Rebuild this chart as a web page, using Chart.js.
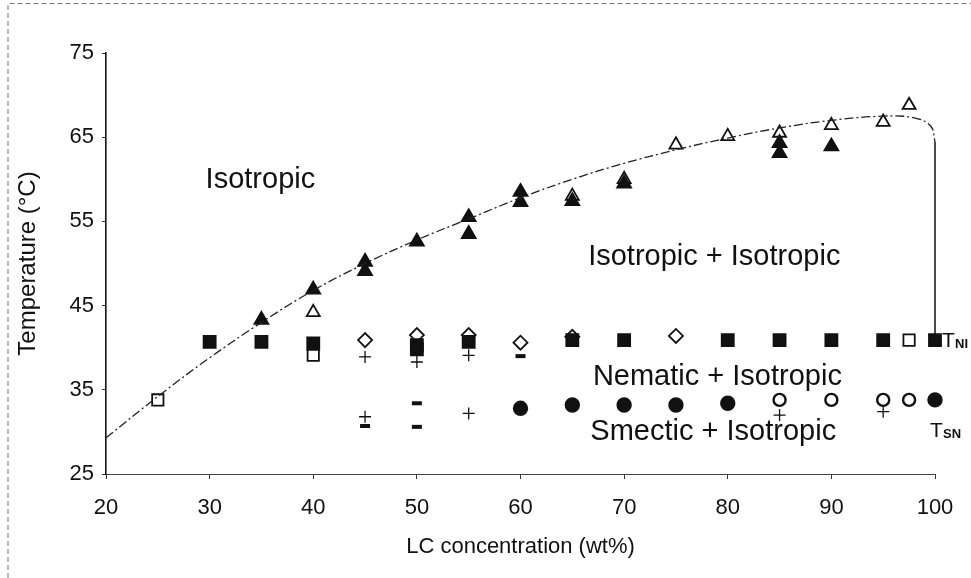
<!DOCTYPE html>
<html>
<head>
<meta charset="utf-8">
<script src="https://cdn.jsdelivr.net/npm/chart.js@4.4.1/dist/chart.umd.min.js"></script>
<style>
  html, body { margin: 0; padding: 0; background: #fff; }
  #wrap { width: 971px; height: 578px; }
</style>
</head>
<body>
<div id="wrap"><canvas id="chart-phase" width="971" height="578"></canvas></div>
<script>
// ---- data (LC concentration wt%, temperature °C) ----
const xTicks = [20, 30, 40, 50, 60, 70, 80, 90, 100];
const yTicks = [25, 35, 45, 55, 65, 75];

// fitted boundary curve
const boundaryCurve = [[20, 29.3], [25, 34.2], [30, 38.8], [35, 43.0], [40, 46.8], [45, 50.0],
  [50, 52.8], [55, 55.3], [60, 57.8], [65, 60.0], [70, 61.9], [75, 63.5], [80, 64.9],
  [85, 66.1], [90, 67.0], [95, 67.5], [98, 67.3], [99.6, 66.3], [100, 64.5]];
const boundaryDrop = [[100, 64.5], [100, 41.0]];

// cloud points
const filledTriangles = [[35, 43.3], [40, 46.9], [45, 50.2], [45, 49.1], [50, 52.6], [55, 55.5],
  [55, 53.5], [60, 58.5], [60, 57.3], [65, 57.4], [70, 59.5], [85, 64.3], [85, 63.1], [90, 63.9]];
const openTriangles = [[40, 44.2], [65, 58.0], [70, 60.0], [75, 64.1], [80, 65.1], [85, 65.5],
  [90, 66.4], [95, 66.8], [97.5, 68.8]];

// T_NI
const filledSquares = [[30, 40.7], [35, 40.7], [40, 40.5], [50, 40.3], [50, 39.8], [55, 40.7],
  [65, 40.9], [70, 40.9], [80, 40.9], [85, 40.9], [90, 40.9], [95, 40.9], [100, 40.9]];
const openSquares = [[25, 33.8], [40, 39.1], [97.5, 40.9]];
const openDiamonds = [[45, 40.9], [50, 41.5], [55, 41.5], [60, 40.6], [65, 41.3], [75, 41.4]];

// T_SN
const filledCircles = [[60, 32.8], [65, 33.2], [70, 33.2], [75, 33.2], [80, 33.4], [100, 33.8]];
const openCircles = [[85, 33.8], [90, 33.8], [95, 33.8], [97.5, 33.8]];
const crosses = [[45, 31.8], [55, 32.2], [85, 32.0], [95, 32.4], [45, 38.9], [50, 38.3], [55, 39.1]];
const dashes = [[45, 30.7], [50, 30.6], [60, 39.0], [50, 33.4]];

const FONT = '"Liberation Sans", Arial, Helvetica, sans-serif';
const INK = "#111";

const toXY = (arr) => arr.map(([x, y]) => ({ x, y }));

function markers(data, style, radius, fill, extra = {}) {
  return Object.assign({
    type: "scatter",
    data: toXY(data),
    pointStyle: style,
    pointRadius: radius,
    pointHoverRadius: radius,
    pointBackgroundColor: fill,
    pointBorderColor: INK,
    pointBorderWidth: 1.8,
    showLine: false,
    clip: false,
  }, extra);
}

// надписи областей и T_NI / T_SN
const labelsPlugin = {
  id: "phaseLabels",
  beforeDraw(chart) {
    const { ctx, width, height } = chart;
    ctx.save();
    ctx.fillStyle = "#fff";
    ctx.fillRect(0, 0, width, height);
    // рамка скана
    ctx.strokeStyle = "#777";
    ctx.lineWidth = 1;
    ctx.setLineDash([5, 3]);
    ctx.beginPath();
    ctx.moveTo(8, height);
    ctx.lineTo(8, 3.5);
    ctx.lineTo(width, 3.5);
    ctx.stroke();
    ctx.restore();
  },
  afterDraw(chart) {
    const { ctx } = chart;
    const xs = chart.scales.x;
    const ys = chart.scales.y;
    const px = (v) => xs.getPixelForValue(v);
    const py = (v) => ys.getPixelForValue(v);
    ctx.save();
    ctx.fillStyle = INK;
    ctx.textAlign = "center";
    ctx.textBaseline = "middle";
    ctx.font = `29px ${FONT}`;
    ctx.fillText("Isotropic", px(34.9), py(59.9));
    ctx.fillText("Isotropic + Isotropic", px(78.7), py(50.8));
    ctx.fillText("Nematic + Isotropic", px(79.0), py(36.5));
    ctx.fillText("Smectic + Isotropic", px(78.6), py(30.0));

    ctx.textAlign = "left";
    ctx.textBaseline = "alphabetic";
    ctx.font = `21px ${FONT}`;
    ctx.fillText("T", px(100) + 7, py(40.9) + 7);
    ctx.fillText("T", px(100) - 5, py(33.8) + 37);
    ctx.font = `bold 13px ${FONT}`;
    ctx.fillText("NI", px(100) + 20, py(40.9) + 8);
    ctx.fillText("SN", px(100) + 8, py(33.8) + 38);
    ctx.restore();
  },
};

const config = {
  data: {
    datasets: [
      {
        type: "line",
        data: toXY(boundaryCurve),
        borderColor: "#222",
        borderWidth: 1.3,
        borderDash: [9, 3, 2, 3],
        pointRadius: 0,
        tension: 0.4,
        fill: false,
        clip: false,
      },
      {
        type: "line",
        data: toXY(boundaryDrop),
        borderColor: "#111",
        borderWidth: 1.5,
        pointRadius: 0,
        tension: 0,
        fill: false,
        clip: false,
      },
      markers(filledTriangles, "triangle", 8, INK),
      markers(openTriangles, "triangle", 7.5, "#fff"),
      markers(filledSquares, "rect", 8.5, INK),
      markers(openSquares, "rect", 8, "#fff"),
      markers(openDiamonds, "rectRot", 7, "#fff"),
      markers(filledCircles, "circle", 6.8, INK),
      markers(openCircles, "circle", 6, "#fff", { pointBorderWidth: 2.4 }),
      markers(crosses, "cross", 6, INK, { pointBorderWidth: 1.3 }),
      markers(dashes, "line", 5, INK, { pointBorderWidth: 4 }),
    ],
  },
  options: {
    responsive: false,
    animation: false,
    events: [],
    layout: { padding: { top: 53, right: 36, bottom: 18, left: 10 } },
    plugins: {
      legend: { display: false },
      tooltip: { enabled: false },
    },
    scales: {
      x: {
        type: "linear",
        min: 20,
        max: 100,
        afterFit(scale) { scale.height = 86; },
        afterBuildTicks(scale) { scale.ticks = xTicks.map((v) => ({ value: v })); },
        border: { display: true, color: "#444", width: 1, dash: [6, 3] },
        grid: { drawOnChartArea: false, drawTicks: true, tickLength: 5, color: "#333" },
        ticks: { color: INK, font: { family: FONT, size: 22 }, padding: 16 },
        title: {
          display: true,
          text: "LC concentration (wt%)",
          color: INK,
          font: { family: FONT, size: 22 },
          padding: { top: 0, bottom: 0 },
        },
      },
      y: {
        type: "linear",
        min: 25,
        max: 75,
        afterFit(scale) { scale.width = 96; },
        afterBuildTicks(scale) { scale.ticks = yTicks.map((v) => ({ value: v })); },
        border: { display: true, color: "#111", width: 1.6 },
        grid: { drawOnChartArea: false, drawTicks: true, tickLength: 4, color: "#333" },
        ticks: { color: INK, font: { family: FONT, size: 22 }, padding: 8 },
        title: {
          display: true,
          text: "Temperature (°C)",
          color: INK,
          font: { family: FONT, size: 24 },
          padding: { top: 4, bottom: 0 },
        },
      },
    },
  },
  plugins: [labelsPlugin],
};

new Chart(document.getElementById("chart-phase"), config);
</script>
</body>
</html>
